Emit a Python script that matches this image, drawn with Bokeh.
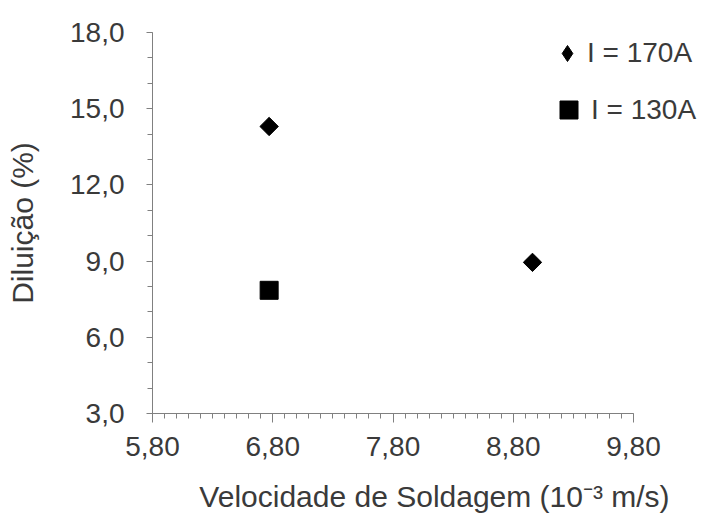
from bokeh.plotting import figure
from bokeh.models import (Range1d, FixedTicker, CustomJSTickFormatter, Legend, LegendItem,
                          ColumnDataSource)
from bokeh.embed import file_html
from bokeh.resources import INLINE
import math

# Data
v170_x = [6.77, 8.96]
v170_y = [14.3, 8.95]
v130_x = [6.77]
v130_y = [7.85]

x_ticks = [5.8, 6.8, 7.8, 8.8, 9.8]
y_ticks = [3.0, 6.0, 9.0, 12.0, 15.0, 18.0]

label_170 = "I = 170A"
label_130 = "I = 130A"
x_title = "Velocidade de Soldagem (10\u207b\u00b3 m/s)"
y_title = "Dilui\u00e7\u00e3o (%)"

FONT = "Liberation Sans"
TEXT = "#3a3a3a"
AXIS = "#808080"

W, H = 716, 523
LEFT, TOP, BOTTOM = 152, 32, 110
PX_PER_UNIT = (633 - 152) / 4.0
x_end = 5.8 + (W - LEFT) / PX_PER_UNIT

p = figure(width=W, height=H, output_backend="svg", toolbar_location=None,
           x_range=Range1d(5.8, x_end), y_range=Range1d(3.0, 18.0),
           min_border_left=LEFT, min_border_right=0, min_border_top=TOP, min_border_bottom=BOTTOM)
p.outline_line_color = None
p.xgrid.visible = False
p.ygrid.visible = False
p.background_fill_color = "white"
p.border_fill_color = "white"

x_minor = [round(5.8 + 0.1 * i, 2) for i in range(41)]
y_minor = [float(v) for v in range(3, 19)]

p.xaxis.ticker = FixedTicker(ticks=x_ticks, minor_ticks=x_minor)
p.yaxis.ticker = FixedTicker(ticks=y_ticks, minor_ticks=y_minor)
p.xaxis.bounds = (5.8, 9.8)
p.xaxis.formatter = CustomJSTickFormatter(code="return tick.toFixed(2).replace('.', ',');")
p.yaxis.formatter = CustomJSTickFormatter(code="return tick.toFixed(1).replace('.', ',');")

for ax in (p.xaxis, p.yaxis):
    ax.axis_line_color = AXIS
    ax.major_tick_line_color = AXIS
    ax.minor_tick_line_color = AXIS
    ax.major_tick_in = 0
    ax.minor_tick_in = 0
    ax.major_label_text_font = FONT
    ax.major_label_text_font_size = "28px"
    ax.major_label_text_color = TEXT
    ax.axis_label_text_font = FONT
    ax.axis_label_text_font_size = "30px"
    ax.axis_label_text_color = TEXT
    ax.axis_label_text_font_style = "normal"

p.xaxis.major_tick_out = 9
p.xaxis.minor_tick_out = 5
p.yaxis.major_tick_out = 6
p.yaxis.minor_tick_out = 5
p.xaxis.major_label_standoff = 14
p.yaxis.major_label_standoff = 22
p.xaxis.axis_label = x_title
p.yaxis.axis_label = y_title
p.xaxis.axis_label_standoff = 21
p.yaxis.axis_label_standoff = 28

src170 = ColumnDataSource(dict(x=v170_x, y=v170_y))
src130 = ColumnDataSource(dict(x=v130_x, y=v130_y))

# diamond-shaped key renderer (hidden beneath the rotated squares) used for the legend
r170_key = p.scatter("x", "y", source=src170, marker="diamond", size=16,
                     fill_color="black", line_color="black")
r170 = p.scatter("x", "y", source=src170, marker="square", size=13, angle=math.pi / 4,
                 fill_color="black", line_color="black")
r130 = p.scatter("x", "y", source=src130, marker="square", size=18,
                 fill_color="black", line_color="black")

common = dict(orientation="vertical", label_text_font=FONT, label_text_font_size="28px",
              label_text_color=TEXT, spacing=0, padding=0, margin=0,
              border_line_color=None, background_fill_alpha=0)

legend_a = Legend(items=[LegendItem(label=label_170, renderers=[r170_key], index=0)],
                  location=(395, 340), glyph_width=40, glyph_height=40, label_height=40,
                  label_standoff=-3, **common)
legend_b = Legend(items=[LegendItem(label=label_130, renderers=[r130])],
                  location=(394, 281), glyph_width=45, glyph_height=45, label_height=45,
                  label_standoff=-7, **common)
p.add_layout(legend_a)
p.add_layout(legend_b)

open("out.html", "w").write(file_html(p, INLINE))
